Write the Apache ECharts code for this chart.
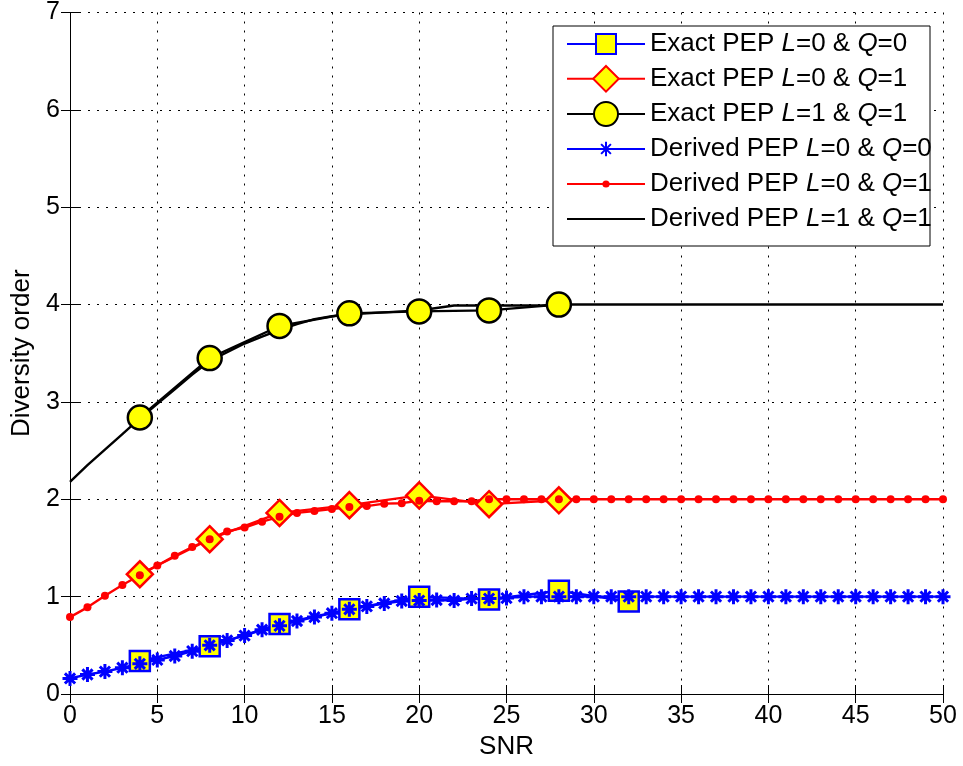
<!DOCTYPE html>
<html>
<head>
<meta charset="utf-8">
<script src="https://cdn.jsdelivr.net/npm/echarts@6/dist/echarts.min.js"></script>
<style>
  html, body { margin: 0; padding: 0; background: #fff; }
  #chart { width: 963px; height: 766px; }
</style>
</head>
<body>
<div id="chart"></div>
<script>
// SNR points where the exact PEP was evaluated
const snrExact = [4, 8, 12, 16, 20, 24, 28];
const snrExactL0Q0 = [4, 8, 12, 16, 20, 24, 28, 32];

// Diversity order from the exact PEP
const exactL0Q0 = [0.34, 0.49, 0.72, 0.87, 1.00, 0.97, 1.06, 0.95];
const exactL0Q1 = [1.23, 1.59, 1.86, 1.94, 2.04, 1.95, 1.99];
const exactL1Q1 = [2.84, 3.45, 3.78, 3.91, 3.93, 3.94, 4.00];

// SNR grid for the derived PEP (1 dB steps)
const snrDerived = [0, 1, 2, 3, 4, 5, 6, 7, 8, 9, 10, 11, 12, 13, 14, 15, 16, 17, 18, 19, 20,
  21, 22, 23, 24, 25, 26, 27, 28, 29, 30, 31, 32, 33, 34, 35, 36, 37, 38, 39, 40,
  41, 42, 43, 44, 45, 46, 47, 48, 49, 50];

// Diversity order from the derived PEP
const derivedL0Q0 = [0.16, 0.20, 0.23, 0.27, 0.31, 0.35, 0.39, 0.44, 0.50, 0.55, 0.60,
  0.66, 0.70, 0.75, 0.79, 0.83, 0.87, 0.90, 0.93, 0.955, 0.96,
  0.965, 0.96, 0.98, 0.98, 0.985, 1.0, 1.0, 1.0, 1.0, 1.0,
  1.0, 1.0, 1.0, 1.0, 1.0, 1.0, 1.0, 1.0, 1.0, 1.0,
  1.0, 1.0, 1.0, 1.0, 1.0, 1.0, 1.0, 1.0, 1.0, 1.0];
const derivedL0Q1 = [0.79, 0.89, 1.01, 1.12, 1.22, 1.32, 1.42, 1.51, 1.59, 1.67, 1.71,
  1.77, 1.82, 1.86, 1.88, 1.90, 1.92, 1.93, 1.955, 1.96, 1.985,
  1.98, 1.98, 1.98, 2.0, 2.0, 2.0, 2.0, 2.0, 2.0, 2.0,
  2.0, 2.0, 2.0, 2.0, 2.0, 2.0, 2.0, 2.0, 2.0, 2.0,
  2.0, 2.0, 2.0, 2.0, 2.0, 2.0, 2.0, 2.0, 2.0, 2.0];
const derivedL1Q1 = [2.18, 2.35, 2.51, 2.67, 2.83, 2.98, 3.13, 3.28, 3.42, 3.51, 3.60,
  3.67, 3.74, 3.80, 3.85, 3.88, 3.90, 3.91, 3.92, 3.93, 3.94,
  3.965, 3.99, 3.99, 3.99, 3.99, 3.99, 3.99, 4.0, 4.0, 4.0,
  4.0, 4.0, 4.0, 4.0, 4.0, 4.0, 4.0, 4.0, 4.0, 4.0,
  4.0, 4.0, 4.0, 4.0, 4.0, 4.0, 4.0, 4.0, 4.0, 4.0];

// Axis ticks
const xTicks = { min: 0, max: 50, interval: 5 };
const yTicks = { min: 0, max: 7, interval: 1 };

const seriesNames = [
  'Exact PEP L=0 & Q=0',
  'Exact PEP L=0 & Q=1',
  'Exact PEP L=1 & Q=1',
  'Derived PEP L=0 & Q=0',
  'Derived PEP L=0 & Q=1',
  'Derived PEP L=1 & Q=1'
];

const FONT = '"Liberation Sans", Arial, Helvetica, sans-serif';
const BLUE = '#0000ff', RED = '#ff0000', BLACK = '#000000', YELLOW = '#ffff00';
const ASTERISK = 'path://M5,0L5,10M0,5L10,5M1.6,1.6L8.4,8.4M1.6,8.4L8.4,1.6';
const LW = 2.4;

function pairs(xs, ys) { return xs.map((x, i) => [x, ys[i]]); }

// L and Q are set in italics in the legend
function richName(name) {
  return name.split(/([LQ])/).filter(s => s.length)
    .map(s => (s === 'L' || s === 'Q') ? '{i|' + s + '}' : '{n|' + s + '}').join('');
}

const legendRows = [
  { name: seriesNames[0], center: 48, itemHeight: 25 },
  { name: seriesNames[1], center: 82, itemHeight: 32 },
  { name: seriesNames[2], center: 118, itemHeight: 30 },
  { name: seriesNames[3], center: 153, itemHeight: 18 },
  { name: seriesNames[4], center: 188, itemHeight: 9 },
  { name: seriesNames[5], center: 223, itemHeight: 10, noMarker: true }
];
const LEGEND_LINE = 34;
const LEGEND_FONT = 26;

const legends = legendRows.map(r => {
  const lg = {
    data: [r.name],
    left: 566,
    top: r.center - LEGEND_LINE / 2,
    orient: 'horizontal',
    padding: 0,
    itemWidth: 78,
    itemHeight: r.itemHeight,
    selectedMode: false,
    formatter: richName,
    textStyle: {
      color: '#000',
      fontFamily: FONT,
      fontSize: LEGEND_FONT,
      rich: {
        n: { fontFamily: FONT, fontSize: LEGEND_FONT, color: '#000', lineHeight: LEGEND_LINE },
        i: { fontFamily: FONT, fontSize: LEGEND_FONT, color: '#000', fontStyle: 'italic', lineHeight: LEGEND_LINE }
      }
    }
  };
  if (r.noMarker) lg.itemStyle = { opacity: 0 };
  return lg;
});

const axisCommon = {
  axisLine: { show: true, lineStyle: { color: '#000', width: 1 } },
  axisTick: { show: true, inside: true, length: 9, lineStyle: { color: '#000', width: 1 } },
  axisLabel: { color: '#000', fontFamily: FONT, fontSize: 25, margin: 10 }
};
const gridLine = { show: true, lineStyle: { color: '#000', width: 1, type: [2, 7] } };

const option = {
  animation: false,
  backgroundColor: '#fff',
  grid: { left: 70, right: 20, top: 11, bottom: 72, containLabel: false },
  legend: legends,
  graphic: [{
    type: 'rect',
    left: 552.5, top: 25.5,
    shape: { width: 377, height: 220 },
    style: { fill: '#fff', stroke: '#000', lineWidth: 1 },
    z: 3
  }],
  xAxis: [
    Object.assign({}, axisCommon, {
      type: 'value', position: 'bottom',
      min: xTicks.min, max: xTicks.max, interval: xTicks.interval,
      name: 'SNR', nameLocation: 'middle', nameGap: 38,
      nameTextStyle: { color: '#000', fontFamily: FONT, fontSize: 26 },
      splitLine: gridLine
    }),
    Object.assign({}, axisCommon, {
      type: 'value', position: 'top',
      min: xTicks.min, max: xTicks.max, interval: xTicks.interval,
      axisLabel: { show: false }, splitLine: { show: false }
    })
  ],
  yAxis: [
    Object.assign({}, axisCommon, {
      type: 'value', position: 'left',
      min: yTicks.min, max: yTicks.max, interval: yTicks.interval,
      name: 'Diversity order', nameLocation: 'middle', nameGap: 34,
      nameTextStyle: { color: '#000', fontFamily: FONT, fontSize: 26 },
      splitLine: gridLine
    }),
    Object.assign({}, axisCommon, {
      type: 'value', position: 'right',
      min: yTicks.min, max: yTicks.max, interval: yTicks.interval,
      axisLabel: { show: false }, splitLine: { show: false }
    })
  ],
  series: [
    {
      name: seriesNames[0], type: 'line', data: pairs(snrExactL0Q0, exactL0Q0),
      symbol: 'rect', symbolSize: 20,
      lineStyle: { color: BLUE, width: LW },
      itemStyle: { color: YELLOW, borderColor: BLUE, borderWidth: 2.5 }
    },
    {
      name: seriesNames[1], type: 'line', data: pairs(snrExact, exactL0Q1),
      symbol: 'diamond', symbolSize: 26,
      lineStyle: { color: RED, width: LW },
      itemStyle: { color: YELLOW, borderColor: RED, borderWidth: 2.5 }
    },
    {
      name: seriesNames[2], type: 'line', data: pairs(snrExact, exactL1Q1),
      symbol: 'circle', symbolSize: 24,
      lineStyle: { color: BLACK, width: LW },
      itemStyle: { color: YELLOW, borderColor: BLACK, borderWidth: 2.5 }
    },
    {
      name: seriesNames[3], type: 'line', data: pairs(snrDerived, derivedL0Q0),
      symbol: ASTERISK, symbolSize: 15,
      lineStyle: { color: BLUE, width: LW },
      itemStyle: { color: BLUE, borderColor: BLUE, borderWidth: 3 }
    },
    {
      name: seriesNames[4], type: 'line', data: pairs(snrDerived, derivedL0Q1),
      symbol: 'circle', symbolSize: 8,
      lineStyle: { color: RED, width: LW },
      itemStyle: { color: RED, borderWidth: 0 }
    },
    {
      name: seriesNames[5], type: 'line', data: pairs(snrDerived, derivedL1Q1),
      symbol: 'none',
      lineStyle: { color: BLACK, width: LW },
      itemStyle: { color: BLACK }
    }
  ]
};

const chart = echarts.init(document.getElementById('chart'), null, { renderer: 'canvas' });
chart.setOption(option);
</script>
</body>
</html>
